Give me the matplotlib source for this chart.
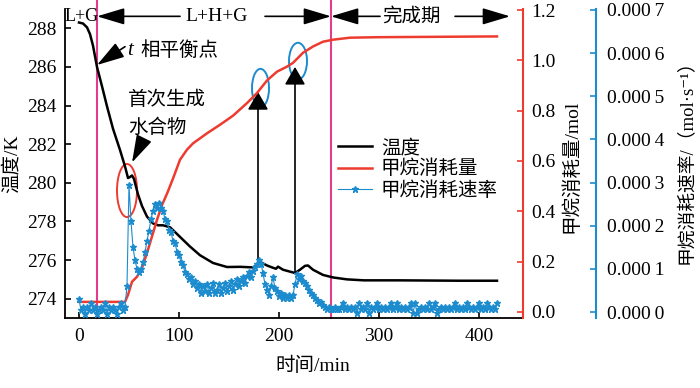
import matplotlib
matplotlib.use("Agg")
import matplotlib.pyplot as plt
from matplotlib.patches import Ellipse
from matplotlib.ticker import FixedLocator, FuncFormatter

plt.rcParams['font.family'] = ['Liberation Serif', 'Noto Sans CJK SC', 'DejaVu Serif']
plt.rcParams['font.size'] = 14

# temperature (K)
temp_t = [0, 4, 8, 11, 14, 18, 23, 28, 34, 41, 46, 49, 51, 53, 55, 59, 63, 68, 74, 79,
          84, 91, 101, 111, 121, 134, 148, 161, 174, 178, 181, 185, 188, 194, 197, 199,
          204, 211, 216, 221, 226, 229, 234, 244, 254, 268, 285, 320, 380, 418]
temp_v = [288.3, 288.25, 288.05, 287.7, 287.1, 286.0, 285.0, 283.96, 282.8, 281.7,
          280.85, 280.25, 280.3, 280.38, 280.2, 279.4, 278.8, 278.25, 277.9, 277.8,
          277.8, 277.7, 277.2, 276.7, 276.25, 275.85, 275.64, 275.65, 275.62, 275.75,
          275.9, 275.8, 275.72, 275.6, 275.55, 275.66, 275.5, 275.4, 275.33, 275.5,
          275.7, 275.72, 275.5, 275.23, 275.1, 275.0, 274.95, 274.95, 274.93, 274.93]

# methane consumed (mol)
gas_t = [0, 46, 49, 53, 58, 63, 68, 73, 78, 83, 88, 94, 101, 108, 114, 121, 128, 141,
         154, 168, 178, 188, 198, 208, 214, 224, 234, 244, 254, 271, 300, 418]
gas_v = [0.04, 0.04, 0.068, 0.12, 0.14, 0.175, 0.235, 0.30, 0.366, 0.425, 0.47, 0.53,
         0.605, 0.645, 0.67, 0.69, 0.71, 0.744, 0.78, 0.83, 0.87, 0.92, 0.955, 0.975,
         0.99, 1.03, 1.055, 1.074, 1.082, 1.09, 1.092, 1.095]

# consumption rate, every 2 min from 0 to 418, in 1e-5 mol/s
rate_e5 = [3.0, 0.4, 1.2, -0.4, 1.2, 0.4, 2.0, 0.4, 1.2, -0.4, 0.4, 1.2, 0.4, 2.0, -0.4,
           1.2, 0.4, 1.2, 0.4, -0.4, 1.2, 2.0, 0.4, 1.2,
           6.0, 29.5, 21.0, 15.0, 12.0, 10.0, 9.2, 10.0, 11.5, 13.8, 16.5, 18.8, 21.5,
           23.5, 25.0, 24.0, 25.2, 24.2, 23.5, 21.5, 21.0, 19.0, 18.5, 16.5, 16.0, 14.0,
           13.2, 11.5, 10.8, 9.2, 8.8, 7.6, 8.0, 6.4, 7.2, 5.6, 6.4,
           4.4, 6.0, 4.8, 6.4, 4.4, 5.6, 6.8, 4.4, 5.2, 6.4, 4.4, 5.6, 6.8, 4.8, 6.0,
           7.2, 5.2, 6.4, 7.6, 6.0, 7.2, 8.0, 6.8, 8.4, 9.2, 8.0, 9.6, 10.4, 11.2, 12.0,
           11.2, 9.0, 6.4, 5.2, 4.0, 6.0, 8.0, 5.6, 4.8, 3.6, 4.4, 3.2, 4.0, 3.2, 4.0,
           3.2, 4.0, 6.4, 8.8, 7.6, 8.4, 7.2, 6.8, 6.0, 5.2, 4.4, 4.0, 3.2, 2.8, 2.0,
           2.4, 1.6, 1.2, 0.8, 1.2, 0.8,
           0.8, 1.2, 0.8, 0.8, 1.2, 2.0, 0.8, 1.2, 0.8, 1.2, 0.8, 1.2, -0.2, 2.0, 0.8,
           1.2, 0.8, 2.0, -0.2, 1.2, 0.8, 1.2, 2.0, 0.8, 1.2, 0.8, 1.2, 0.8, 1.2, 2.0,
           0.8, 1.2, 2.0, 0.8, 1.2, 0.8, 1.2, 0.8, 1.2, 2.0, -0.2, 2.0, -0.2, 0.8, 1.2,
           0.8, 1.2, 0.8, 2.0, 0.8, 1.2, 2.0, -0.2, 0.8, 1.2, 0.8, 1.2, 0.8, 1.2, 0.8,
           1.2, 2.0, 0.8, 1.2, 0.8, 1.2, 0.8, 2.0, 1.2, 0.8, 1.2, 0.8, 1.2, 2.0, 0.8,
           1.2, 0.8, 2.0, 1.2, 0.8, 1.2, 0.8, 2.0]
rate_t = list(range(0, 2 * len(rate_e5), 2))
rate_v = [r * 1e-5 for r in rate_e5]

x_ticks = [0, 100, 200, 300, 400]
temp_ticks = [274, 276, 278, 280, 282, 284, 286, 288]
gas_ticks = [0.0, 0.2, 0.4, 0.6, 0.8, 1.0, 1.2]
rate_ticks = [0, 1e-4, 2e-4, 3e-4, 4e-4, 5e-4, 6e-4, 7e-4]
stage_lines = [18, 252]

RED = '#ee3b2f'
BLUE = '#1c8ccf'
PINK = '#e23c8e'

fig = plt.figure(figsize=(7, 3.88), dpi=100)
ax = fig.add_axes([65 / 700, 70 / 388, 458 / 700, 309 / 388])
ax2 = ax.twinx()
ax3 = ax.twinx()

l1, = ax.plot(temp_t, temp_v, color='black', lw=1.8, label='温度')
l2, = ax2.plot(gas_t, gas_v, color=RED, lw=1.8, label='甲烷消耗量')
l3, = ax3.plot(rate_t, rate_v, color=BLUE, lw=0.8, marker='*', ms=4.5,
               label='甲烷消耗速率')

ax.set_xlim(-14, 444)
ax.set_ylim(273, 289)
ax2.set_ylim(-0.024, 1.204)
ax3.set_ylim(-0.0000139, 0.0007023)

for s in ['top', 'right']:
    ax.spines[s].set_visible(False)
for a in (ax2, ax3):
    for s in ['top', 'left', 'bottom']:
        a.spines[s].set_visible(False)
ax.spines['left'].set_linewidth(1.3)
ax.spines['bottom'].set_linewidth(1.3)
ax2.spines['right'].set_color(RED)
ax2.spines['right'].set_linewidth(1.5)
ax3.spines['right'].set_color(BLUE)
ax3.spines['right'].set_linewidth(1.5)
# 73 px to the right of the red spine (value in points)
ax3.spines['right'].set_position(('outward', 73 * 0.72))

ax.set_xticks(x_ticks)
ax.set_yticks(temp_ticks)
ax.tick_params(axis='both', direction='in', length=4, width=1.2, labelsize=14)
ax.tick_params(axis='y', pad=6)
ax.tick_params(axis='x', pad=7)
ax2.yaxis.set_major_locator(FixedLocator(gas_ticks))
ax2.yaxis.set_major_formatter(FuncFormatter(lambda v, p: f'{v:.1f}'))
ax2.tick_params(axis='y', direction='in', length=4, width=1.2, color=RED,
                labelsize=14, pad=6)
ax3.yaxis.set_major_locator(FixedLocator(rate_ticks))
ax3.yaxis.set_major_formatter(
    FuncFormatter(lambda v, p: '0.000\u2009' + str(int(round(v * 1e4)))))
ax3.tick_params(axis='y', direction='in', length=4, width=1.2, color=BLUE,
                labelsize=14, pad=8)

ax.set_xlabel('时间/min', fontsize=14)
ax.xaxis.set_label_coords(0.541, -0.125)
ax.set_ylabel('温度/K', fontsize=14)
ax.yaxis.set_label_coords(-0.096, 0.5)
ax2.set_ylabel('甲烷消耗量/mol', fontsize=14)
ax2.yaxis.set_label_coords(1.085, 0.49)
ax3.set_ylabel('甲烷消耗速率/（mol·s⁻¹）', fontsize=13.5)
ax3.yaxis.set_label_coords(1.338, 0.52)

# stage boundaries
for xs in stage_lines:
    ax.plot([xs, xs], [273, 289.5], color=PINK, lw=1.5, clip_on=False, zorder=1)

# stage labels with arrows
y_top = 288.62
head = dict(arrowstyle='-|>,head_length=1.0,head_width=0.3', color='black',
            lw=1.2, mutation_scale=17, shrinkA=0, shrinkB=0)
ax.text(2.5, y_top, 'L+G', ha='center', va='center', fontsize=13)
ax.text(137.5, y_top, 'L+H+G', ha='center', va='center', fontsize=14)
ax.annotate('', xy=(18, y_top), xytext=(101, y_top), arrowprops=head,
            annotation_clip=False)
ax.annotate('', xy=(252, y_top), xytext=(186, y_top), arrowprops=head,
            annotation_clip=False)
ax.text(332, y_top, '完成期', ha='center', va='center', fontsize=14)
ax.annotate('', xy=(252, y_top), xytext=(301, y_top), arrowprops=head,
            annotation_clip=False)
ax.annotate('', xy=(431, y_top), xytext=(376, y_top), arrowprops=head,
            annotation_clip=False)

# point notes
ax.text(48, 286.85, 't', style='italic', ha='left', va='center', fontsize=15)
ax.text(61, 286.85, '相平衡点', ha='left', va='center', fontsize=14)
ax.annotate('', xy=(18, 286.1), xytext=(46, 287.05), arrowprops=head)
ax.text(49, 284.32, '首次生成', ha='left', va='center', fontsize=14)
ax.text(49, 282.87, '水合物', ha='left', va='center', fontsize=14)
ax.annotate('', xy=(53, 281.05), xytext=(64, 282.2), arrowprops=head)

up = dict(arrowstyle='-|>,head_length=0.95,head_width=0.55', color='black',
          lw=1.2, mutation_scale=11.5, shrinkA=0, shrinkB=0)
ax.annotate('', xy=(179, 284.7), xytext=(179, 275.9), arrowprops=up)
ax.annotate('', xy=(216, 286.0), xytext=(216, 275.3), arrowprops=up)

ax.add_patch(Ellipse((48, 279.6), 20, 2.75, fill=False, ec=RED, lw=1.4))
ax.add_patch(Ellipse((181.5, 284.9), 17, 2.0, fill=False, ec=BLUE, lw=1.4))
ax.add_patch(Ellipse((219, 286.3), 18, 1.9, fill=False, ec=BLUE, lw=1.4))

ax3.legend([l1, l2, l3], ['温度', '甲烷消耗量', '甲烷消耗速率'], loc='upper left',
           bbox_to_anchor=(338 / 700, 1 - 139 / 388), bbox_transform=fig.transFigure,
           frameon=False, fontsize=14, handlelength=1.75, handletextpad=0.45,
           labelspacing=0.15, borderpad=0, borderaxespad=0, numpoints=1)

fig.savefig('out.png', dpi=100)
